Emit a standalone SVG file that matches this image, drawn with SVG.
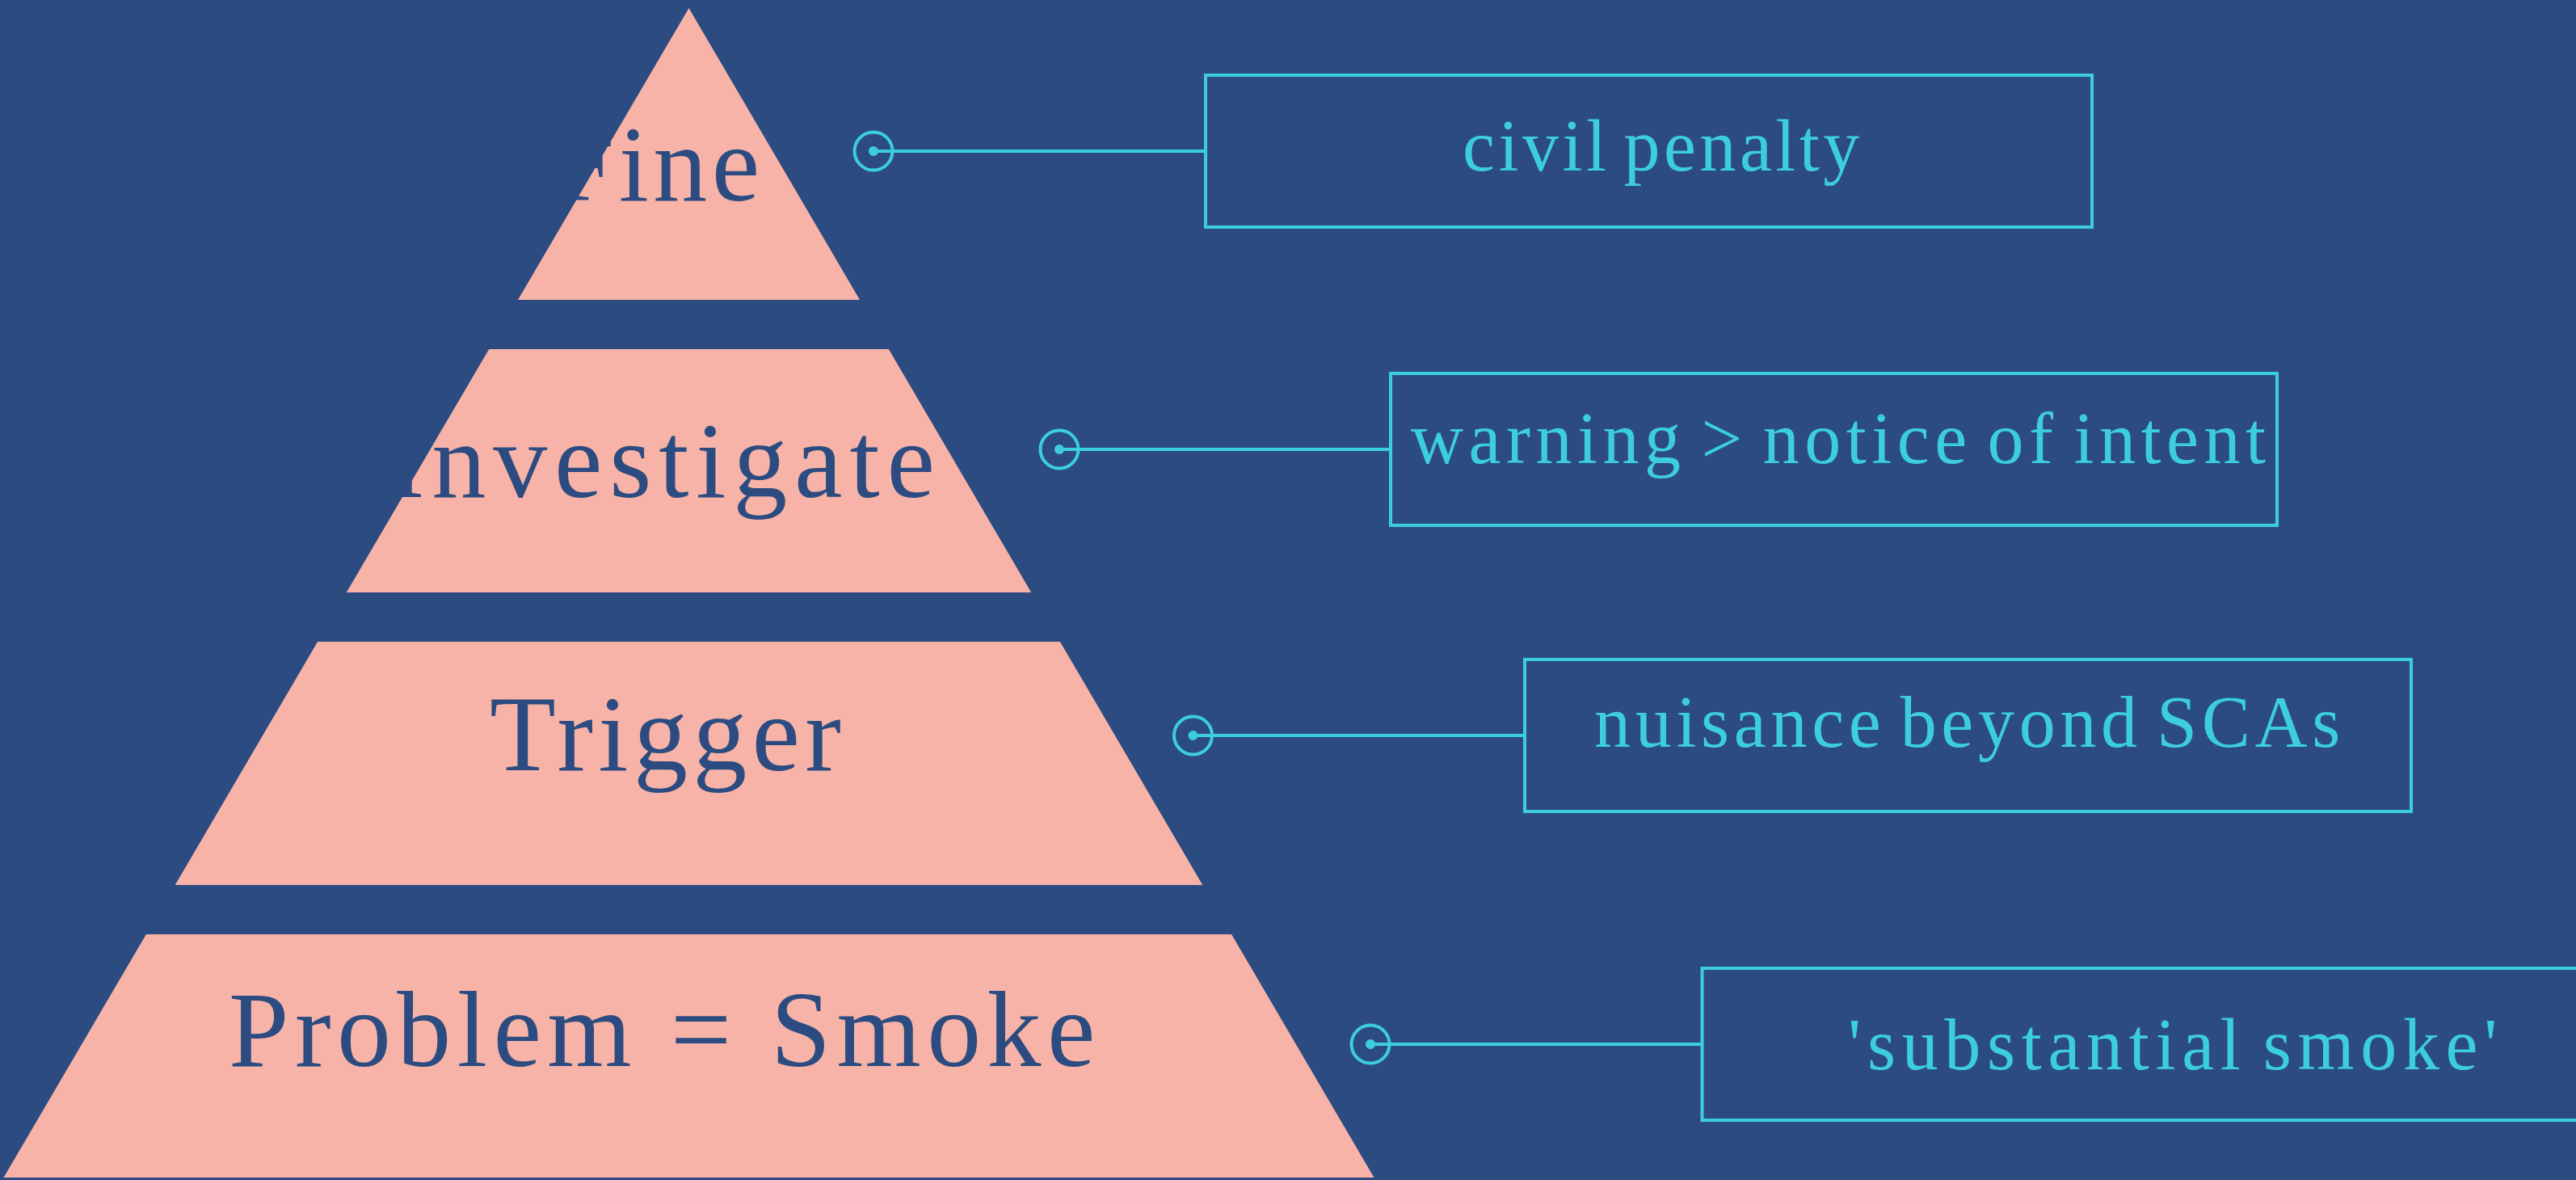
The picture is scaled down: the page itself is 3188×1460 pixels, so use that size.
<svg xmlns="http://www.w3.org/2000/svg" width="3188" height="1460" viewBox="0 0 3188 1460">
  <style>
    .tier { fill: #F7B3A7; }
    .tlabel { font-family: "Liberation Serif", "Times New Roman", serif; font-size: 134px; fill: #2C4C81; }
    .box { fill: none; stroke: #3CCEDF; stroke-width: 4; }
    .blabel { font-family: "Liberation Serif", "Times New Roman", serif; font-size: 90px; fill: #3CCEDF; word-spacing: -10px; }
    .conn { stroke: #3CCEDF; stroke-width: 4; fill: none; }
    .ring { stroke: #3CCEDF; stroke-width: 4; fill: none; }
    .dot { fill: #3CCEDF; }
  </style>
  <rect x="0" y="0" width="3188" height="1460" fill="#2C4C81"/>

  <g id="tier-fine">
    <polygon class="tier" points="852.5,10 641,371 1064,371"/>
    <text class="tlabel" x="686" y="248" letter-spacing="5.3">Fine</text>
  </g>
  <g id="tier-investigate">
    <polygon class="tier" points="605.2,432 1099.8,432 1276.2,733 428.8,733"/>
    <text class="tlabel" x="481" y="615" letter-spacing="8.8">Investigate</text>
  </g>
  <g id="tier-trigger">
    <polygon class="tier" points="393.1,794 1311.9,794 1488.3,1095 216.7,1095"/>
    <text class="tlabel" x="606" y="953" letter-spacing="6.3">Trigger</text>
  </g>
  <g id="tier-problem">
    <polygon class="tier" points="180.9,1156 1524.1,1156 1700.5,1457 4.5,1457"/>
    <text class="tlabel" x="283" y="1319" letter-spacing="7.4">Problem = Smoke</text>
  </g>

  <g id="connectors">
    <line class="conn" x1="1081" y1="187" x2="1492" y2="187"/>
    <circle class="ring" cx="1081" cy="187" r="23.5"/>
    <circle class="dot" cx="1081" cy="187" r="6"/>

    <line class="conn" x1="1311" y1="556" x2="1721" y2="556"/>
    <circle class="ring" cx="1311" cy="556" r="23.5"/>
    <circle class="dot" cx="1311" cy="556" r="6"/>

    <line class="conn" x1="1476.5" y1="910" x2="1887" y2="910"/>
    <circle class="ring" cx="1476.5" cy="910" r="23.5"/>
    <circle class="dot" cx="1476.5" cy="910" r="6"/>

    <line class="conn" x1="1696" y1="1292" x2="2106.5" y2="1292"/>
    <circle class="ring" cx="1696" cy="1292" r="23.5"/>
    <circle class="dot" cx="1696" cy="1292" r="6"/>
  </g>

  <g id="note-civil-penalty">
    <rect class="box" x="1492" y="93" width="1097" height="188"/>
    <text class="blabel" x="1810" y="211" letter-spacing="4.5">civil penalty</text>
  </g>
  <g id="note-warning">
    <rect class="box" x="1721" y="462" width="1097" height="188"/>
    <text class="blabel" x="1746" y="573" letter-spacing="6.5">warning &gt; notice of intent</text>
  </g>
  <g id="note-nuisance">
    <rect class="box" x="1887" y="816" width="1097" height="188"/>
    <text class="blabel" x="1973" y="924" letter-spacing="5.7">nuisance beyond SCAs</text>
  </g>
  <g id="note-substantial">
    <rect class="box" x="2106.5" y="1198" width="1097" height="188"/>
    <text class="blabel" x="2287" y="1323" letter-spacing="7.7">'substantial smoke'</text>
  </g>
</svg>
